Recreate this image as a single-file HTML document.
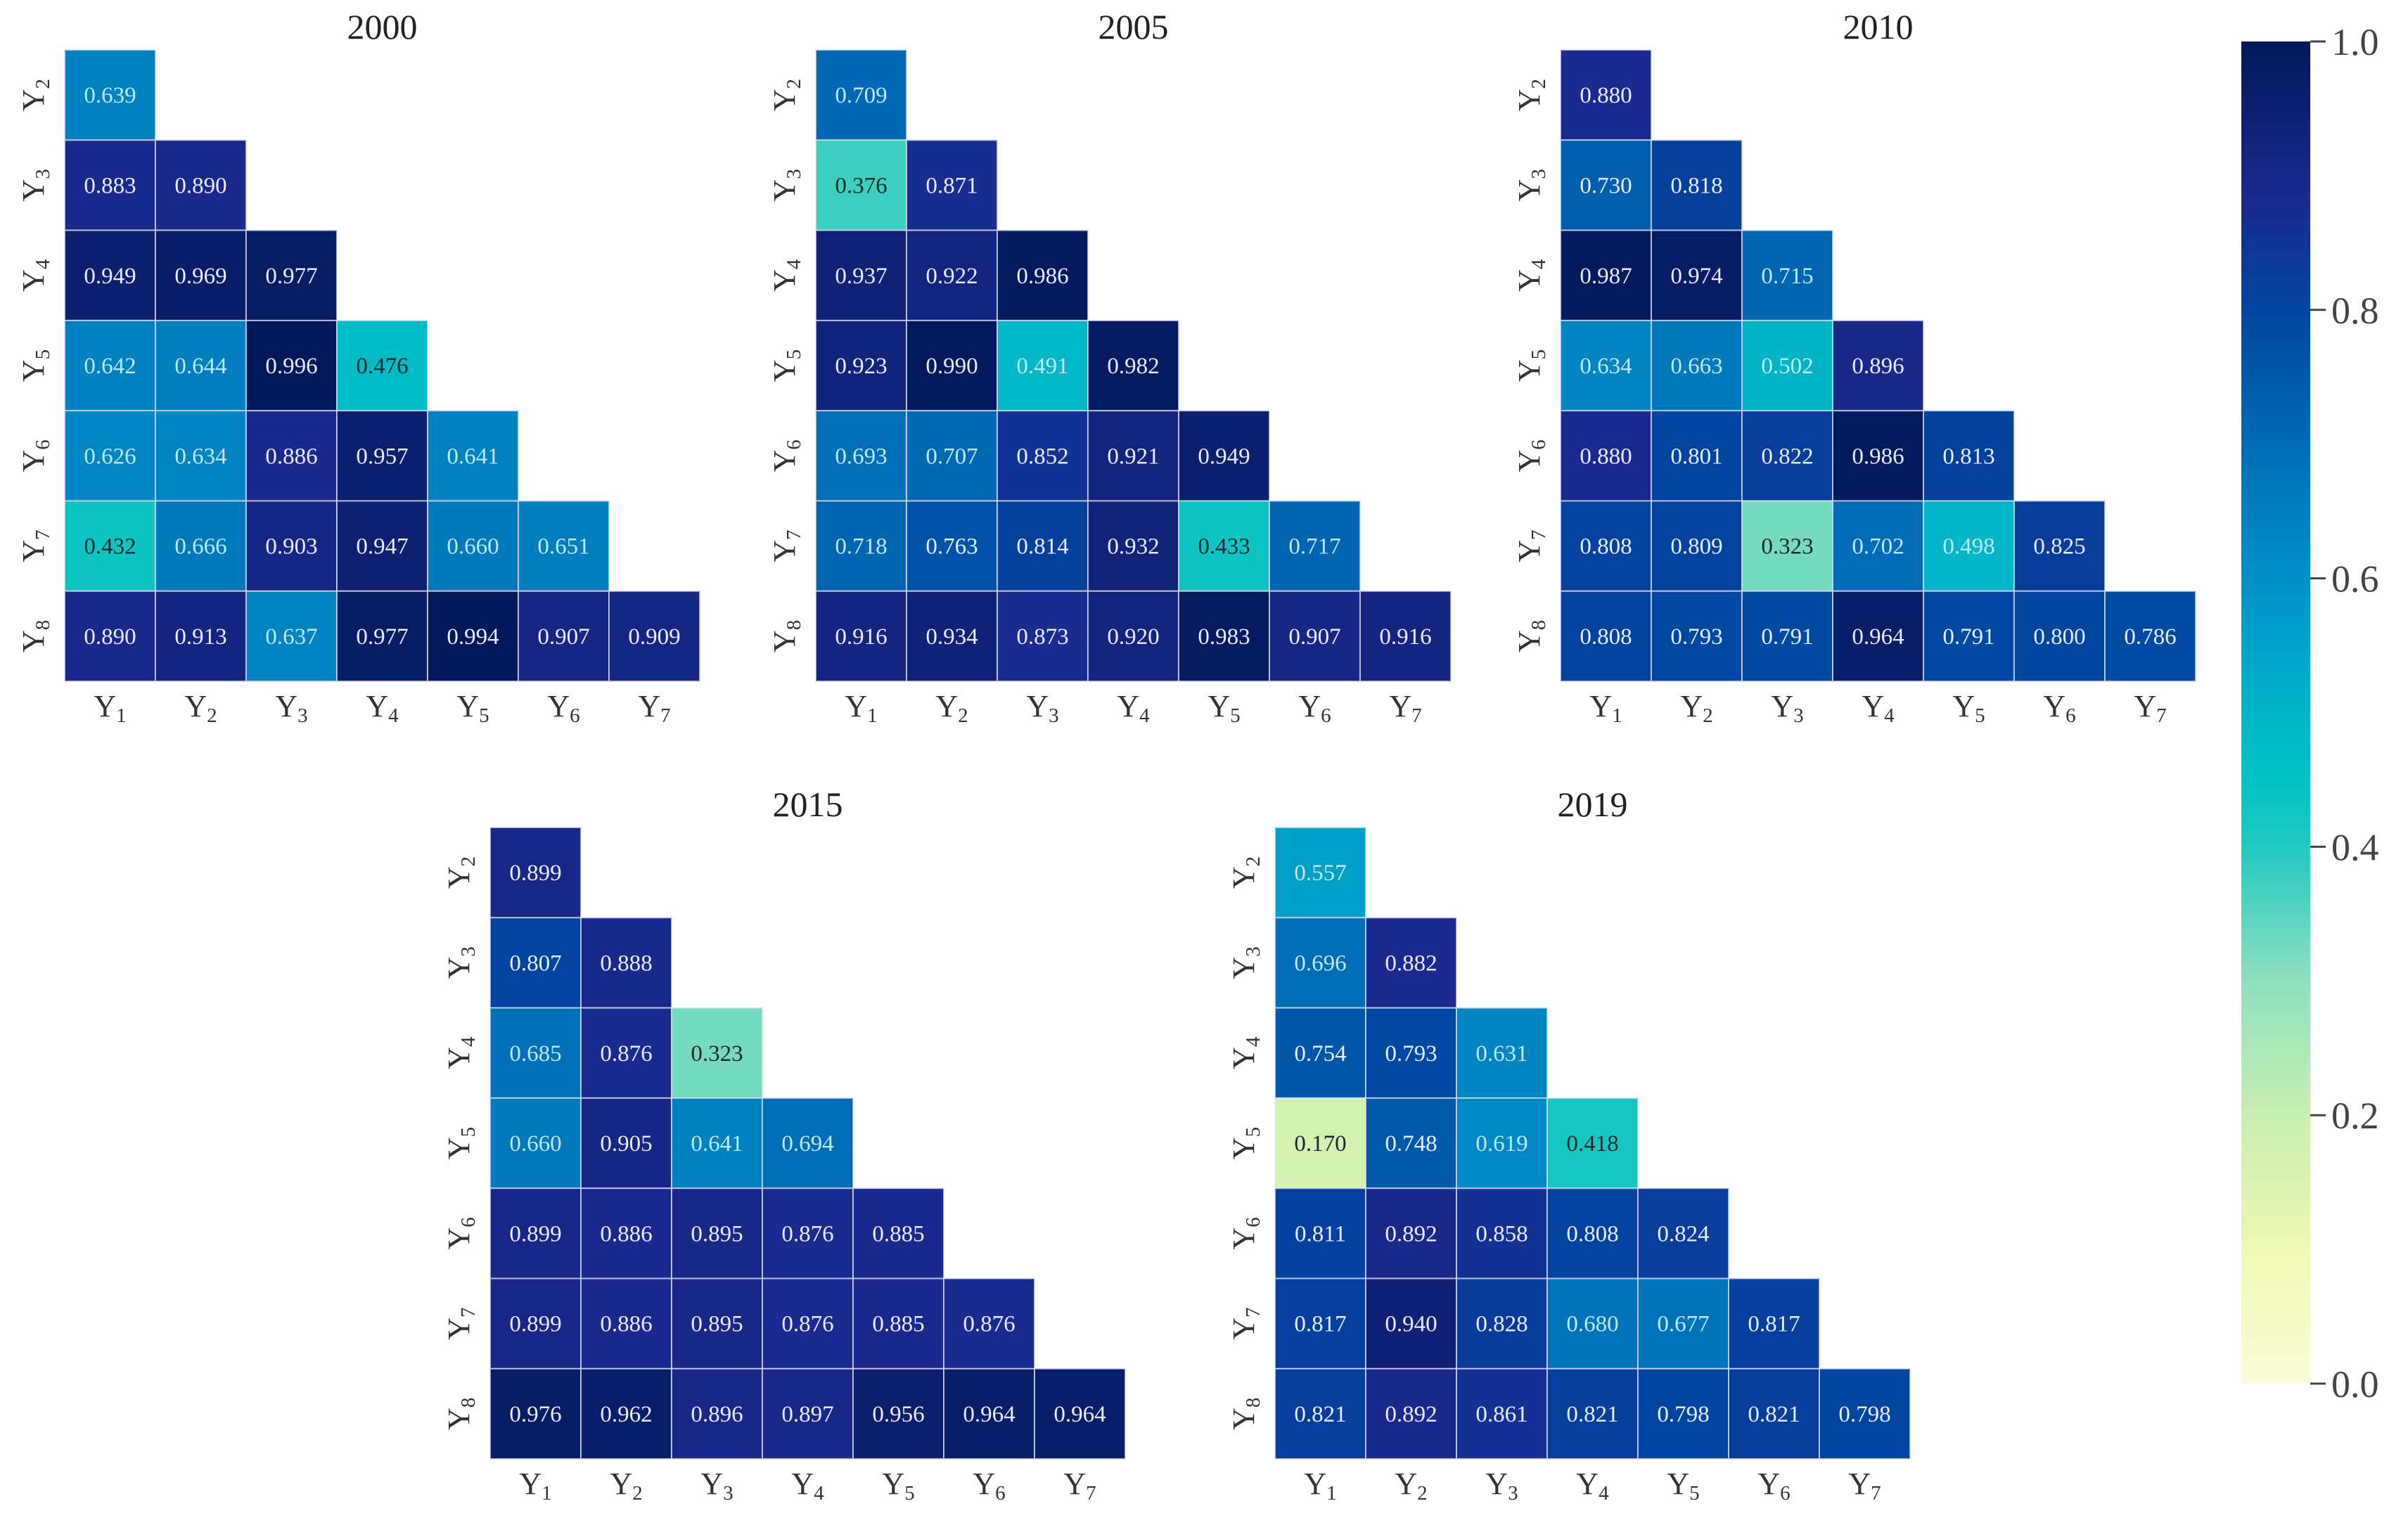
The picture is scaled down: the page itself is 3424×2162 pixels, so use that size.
<!DOCTYPE html>
<html><head><meta charset="utf-8"><style>
html,body{margin:0;padding:0;background:#fff;}
svg{display:block;font-family:"Liberation Serif",serif;}
</style></head><body>
<svg id="chart" width="3424" height="2162" viewBox="0 0 3424 2162" xmlns="http://www.w3.org/2000/svg">
<defs>
<linearGradient id="cbgrad" x1="0" y1="1" x2="0" y2="0">
<stop offset="0" stop-color="#fbfcd8"/><stop offset="0.1" stop-color="#eef8b2"/><stop offset="0.2" stop-color="#c9eeb2"/><stop offset="0.3" stop-color="#8ee0bf"/><stop offset="0.4" stop-color="#22c9c0"/><stop offset="0.45" stop-color="#00c3c4"/><stop offset="0.5" stop-color="#00b5c8"/><stop offset="0.6" stop-color="#0090c8"/><stop offset="0.7" stop-color="#006cb6"/><stop offset="0.8" stop-color="#0045a0"/><stop offset="0.88" stop-color="#1a2a90"/><stop offset="0.95" stop-color="#0c2070"/><stop offset="1" stop-color="#001858"/>
</linearGradient>
</defs>
</svg>
<script>
const years = ["2000","2005","2010","2015","2019"];
const vals2000 = [[0.639],[0.883,0.890],[0.949,0.969,0.977],[0.642,0.644,0.996,0.476],[0.626,0.634,0.886,0.957,0.641],[0.432,0.666,0.903,0.947,0.660,0.651],[0.890,0.913,0.637,0.977,0.994,0.907,0.909]];
const vals2005 = [[0.709],[0.376,0.871],[0.937,0.922,0.986],[0.923,0.990,0.491,0.982],[0.693,0.707,0.852,0.921,0.949],[0.718,0.763,0.814,0.932,0.433,0.717],[0.916,0.934,0.873,0.920,0.983,0.907,0.916]];
const vals2010 = [[0.880],[0.730,0.818],[0.987,0.974,0.715],[0.634,0.663,0.502,0.896],[0.880,0.801,0.822,0.986,0.813],[0.808,0.809,0.323,0.702,0.498,0.825],[0.808,0.793,0.791,0.964,0.791,0.800,0.786]];
const vals2015 = [[0.899],[0.807,0.888],[0.685,0.876,0.323],[0.660,0.905,0.641,0.694],[0.899,0.886,0.895,0.876,0.885],[0.899,0.886,0.895,0.876,0.885,0.876],[0.976,0.962,0.896,0.897,0.956,0.964,0.964]];
const vals2019 = [[0.557],[0.696,0.882],[0.754,0.793,0.631],[0.170,0.748,0.619,0.418],[0.811,0.892,0.858,0.808,0.824],[0.817,0.940,0.828,0.680,0.677,0.817],[0.821,0.892,0.861,0.821,0.798,0.821,0.798]];
const rowLabels = ["2","3","4","5","6","7","8"];
const colLabels = ["1","2","3","4","5","6","7"];
const cbTicks = [0,0.2,0.4,0.6,0.8,1.0];

const NS="http://www.w3.org/2000/svg";
const svg=document.getElementById('chart');
function mk(tag,attrs,parent){const e=document.createElementNS(NS,tag);for(const k in attrs)e.setAttribute(k,attrs[k]);(parent||svg).appendChild(e);return e;}
const stops=[[0,"#fbfcd8"],[0.1,"#eef8b2"],[0.2,"#c9eeb2"],[0.3,"#8ee0bf"],[0.4,"#22c9c0"],[0.45,"#00c3c4"],[0.5,"#00b5c8"],[0.6,"#0090c8"],[0.7,"#006cb6"],[0.8,"#0045a0"],[0.88,"#1a2a90"],[0.95,"#0c2070"],[1,"#001858"]];
function hex(h){return [1,3,5].map(i=>parseInt(h.substr(i,2),16));}
function cmap(v){v=Math.max(0,Math.min(1,v));for(let i=1;i<stops.length;i++){if(v<=stops[i][0]){const a=stops[i-1],b=stops[i];const t=(v-a[0])/(b[0]-a[0]);const ca=hex(a[1]),cb=hex(b[1]);return 'rgb('+ca.map((c,j)=>Math.round(c+(cb[j]-c)*t)).join(',')+')';}}return stops[stops.length-1][1];}

const allVals=[vals2000,vals2005,vals2010,vals2015,vals2019];
const origins=[[92,71],[1160,71],[2219,71],[697,1177],[1813,1177]];
const CW=129, CH=128.3;

allVals.forEach((vals,p)=>{
  const [ox,oy]=origins[p];
  const g=mk('g',{});
  
  
  const t=mk('text',{x:ox+3.5*CW,y:oy-16,'text-anchor':'middle','font-size':50,fill:'#222'},g);
  t.textContent=years[p];
  
  
  vals.forEach((row,r)=>{
    row.forEach((v,c)=>{
      const x=ox+c*CW,y=oy+r*CH;
      const rc=mk('rect',{x:x,y:y,width:CW,height:CH,fill:cmap(v),stroke:'rgba(225,225,245,0.7)','stroke-width':2},g);
      
      
      let fc='#e8ecff';
      if(v<0.48) fc='#1a2a2a'; else if(v<0.72) fc='#bfe8f4';
      const tx=mk('text',{x:x+CW/2,y:y+CH/2+11,'text-anchor':'middle','font-size':33,fill:fc},g);
      tx.textContent=v.toFixed(3);
      
      
    });
  });
  rowLabels.forEach((l,r)=>{
    const cx=ox-30, cy=oy+r*CH+CH/2;
    const tx=mk('text',{x:0,y:0,'text-anchor':'middle','font-size':44,fill:'#333',transform:'translate('+cx+','+cy+') rotate(-90)'},g);
    tx.appendChild(document.createTextNode('Y'));
    const s=mk('tspan',{'font-size':29,dy:8},tx);s.textContent=l;
    
    
  });
  colLabels.forEach((l,c)=>{
    const tx=mk('text',{x:ox+c*CW+CW/2,y:oy+7*CH+50,'text-anchor':'middle','font-size':44,fill:'#333'},g);
    tx.appendChild(document.createTextNode('Y'));
    const s=mk('tspan',{'font-size':29,dy:8},tx);s.textContent=l;
    
    
  });
});

// colorbar
const cbX=3187,cbW=98,cbTop=59,cbBot=1968;
const cb=mk('rect',{x:cbX,y:cbTop,width:cbW,height:cbBot-cbTop,fill:'url(#cbgrad)'});


function cy(v){return cbBot-(cbBot-cbTop)*v;}
cbTicks.forEach(v=>{
  const y=cy(v);
  const ln=mk('line',{x1:cbX+cbW,x2:cbX+cbW+22,y1:y,y2:y,stroke:'#444','stroke-width':3});
  
  
  const tx=mk('text',{x:cbX+cbW+30,y:y+19,'font-size':54,fill:'#444'});
  tx.textContent=v.toFixed(1);
  
  
});
</script>
</body></html>
